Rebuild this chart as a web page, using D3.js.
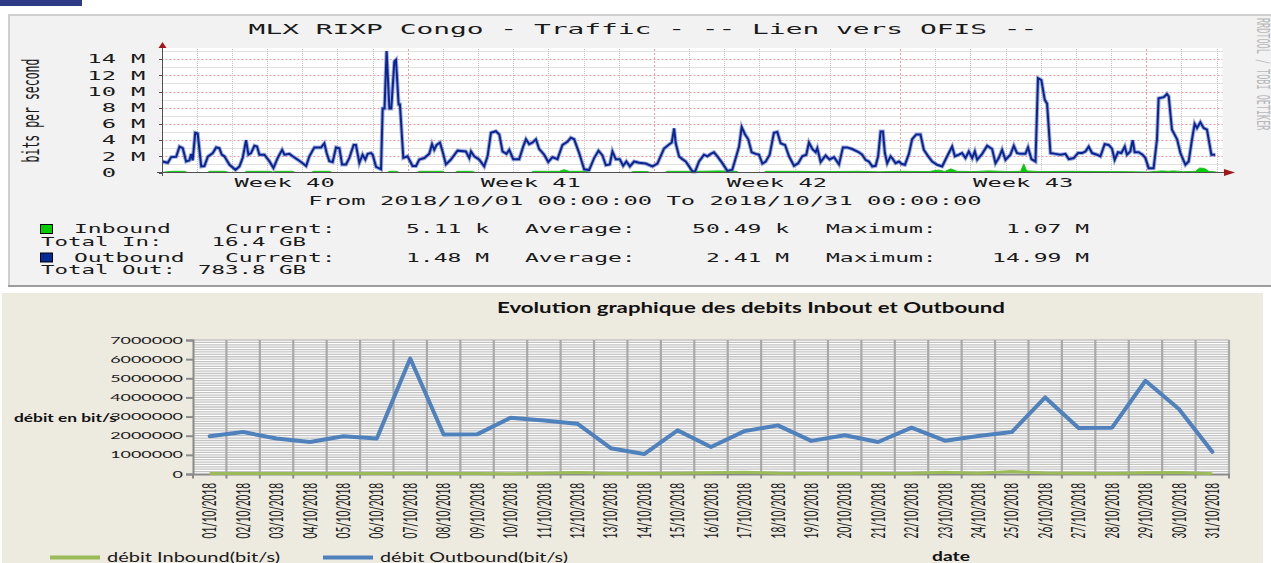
<!DOCTYPE html>
<html>
<head>
<meta charset="utf-8">
<script src="https://cdn.jsdelivr.net/npm/d3@7"></script>
<style>
  body { margin: 0; background: #fff; }
  svg { display: block; }
  text { white-space: pre; }
</style>
</head>
<body>
<div id="chart"></div>
<script>
// ---------- top graph (rrdtool) : hours since 2018/10/01 00:00, Mbit/s
const outHours = [
  0.5, 4.3, 6.6, 10.0, 12.3, 14.5, 16.8, 19.1, 20.2, 21.3,
  23.0, 24.7, 27.1, 29.3, 31.6, 35.0, 37.3, 39.5, 41.1, 42.9,
  46.4, 50.5, 53.2, 55.4, 57.7, 59.3, 61.1, 63.4, 65.2, 66.8,
  70.2, 73.6, 76.4, 79.3, 82.3, 83.9, 87.3, 89.5, 92.9, 95.9,
  98.7, 100.9, 104.3, 108.9, 111.1, 112.7, 114.5, 116.8, 119.1, 121.4,
  123.2, 125.9, 128.2, 131.1, 132.7, 135.0, 137.2, 139.1, 140.7, 143.0,
  144.1, 146.4, 149.8, 150.9, 152.2, 153.6, 155.5, 156.8, 158.9, 160.0,
  161.8, 162.7, 165.0, 167.9, 171.3, 173.7, 175.9, 179.3, 182.7, 184.6,
  186.1, 187.7, 190.0, 191.8, 194.1, 197.5, 202.0, 207.7, 210.0, 211.2,
  213.4, 216.8, 220.2, 222.5, 224.8, 228.2, 230.5, 232.7, 235.4, 237.3,
  240.0, 244.1, 246.8, 248.7, 250.9, 253.2, 255.5, 257.7, 261.1, 263.9,
  266.8, 270.2, 273.6, 277.0, 279.3, 281.6, 285.0, 288.4, 291.8, 295.2,
  298.2, 300.9, 303.2, 305.9, 307.7, 310.0, 312.7, 315.0, 317.2, 319.6,
  322.5, 325.9, 330.5, 335.0, 338.4, 342.9, 345.9, 348.2, 349.8, 350.9,
  353.2, 355.4, 357.7, 360.0, 362.3, 364.1, 366.8, 370.2, 372.5, 374.8,
  377.0, 379.3, 382.7, 386.1, 389.5, 392.2, 394.1, 395.9, 398.2, 400.4,
  402.7, 405.5, 407.7, 410.0, 412.3, 415.0, 417.9, 420.2, 422.5, 425.5,
  428.2, 431.6, 434.5, 437.2, 440.0, 441.8, 444.1, 446.4, 447.5, 449.8,
  453.2, 455.9, 458.9, 462.3, 465.0, 467.9, 471.3, 475.9, 478.1, 480.4,
  482.7, 485.0, 487.3, 489.0, 490.7, 492.3, 493.6, 495.2, 497.5, 499.1,
  500.9, 503.2, 505.0, 507.3, 510.0, 512.2, 515.0, 517.9, 520.2, 523.2,
  525.9, 529.3, 532.7, 536.1, 539.5, 541.4, 544.1, 546.3, 548.6, 550.9,
  553.2, 555.0, 556.6, 560.0, 563.4, 566.8, 569.1, 571.3, 573.6, 575.9,
  579.3, 581.6, 583.8, 586.1, 589.5, 591.3, 593.6, 596.4, 598.1, 600.4,
  602.7, 604.3, 606.6, 610.0, 613.4, 616.8, 619.1, 622.5, 625.4, 628.2,
  630.5, 632.7, 635.0, 638.4, 640.7, 643.6, 646.4, 648.6, 650.4, 652.7,
  655.0, 657.3, 658.8, 661.1, 662.7, 664.1, 666.8, 669.5, 671.4, 673.6,
  677.0, 679.3, 680.4, 683.9, 686.1, 687.3, 689.5, 693.0, 695.3, 698.7,
  700.9, 703.2, 705.0, 706.6, 708.9, 711.1, 713.4, 716.4, 719.1
];
const outMbps = [
  1.36, 1.2, 1.9, 1.95, 3.2, 3.0, 1.36, 1.5, 2.3, 1.5,
  4.9, 4.8, 0.75, 0.8, 1.95, 2.4, 3.1, 3.0, 2.2, 2.0,
  0.95, 0.33, 0.75, 1.8, 4.0, 2.2, 2.4, 3.3, 3.2, 2.2,
  2.2, 1.4, 0.55, 1.8, 2.8, 2.2, 2.3, 2.0, 1.6, 1.2,
  0.8, 2.0, 3.1, 3.1, 3.6, 2.4, 1.4, 1.3, 3.1, 3.0,
  1.0, 1.0, 1.8, 3.4, 3.4, 1.2, 2.2, 1.6, 2.3, 2.4,
  2.2, 0.7, 0.4, 7.9, 7.9, 15.0, 7.9, 7.9, 13.7, 13.9,
  8.4, 8.4, 1.8, 2.0, 0.8, 0.8, 1.6, 1.78, 2.3, 3.5,
  2.8, 3.4, 3.7, 2.6, 1.0, 1.6, 2.7, 2.6, 1.78, 2.6,
  2.0, 1.6, 0.75, 2.0, 4.9, 5.1, 4.7, 2.6, 2.3, 2.8,
  1.65, 1.65, 3.2, 4.1, 3.5, 3.7, 4.1, 2.9, 2.2, 1.3,
  1.9, 1.65, 3.4, 3.8, 4.3, 4.1, 2.4, 0.4, 0.3, 1.78,
  2.7, 2.1, 0.9, 1.0, 2.6, 1.65, 1.65, 0.83, 1.36, 0.75,
  1.36, 1.2, 1.1, 0.75, 1.1, 2.95, 3.4, 3.7, 5.45, 3.6,
  1.98, 1.65, 1.36, 0.75, 0.12, 0.12, 1.36, 2.2, 2.0, 2.3,
  2.5, 2.0, 1.15, 0.2, 0.35, 2.0, 3.2, 5.6, 4.7, 4.1,
  2.5, 2.3, 2.2, 1.1, 1.36, 2.2, 4.9, 5.0, 3.6, 3.4,
  2.0, 0.83, 1.15, 2.0, 2.2, 3.7, 2.9, 2.5, 3.0, 1.3,
  2.1, 1.6, 1.9, 1.0, 3.1, 3.1, 2.9, 2.5, 2.2, 1.57,
  1.36, 0.75, 0.83, 2.0, 5.06, 5.06, 2.4, 1.15, 2.0, 1.65,
  1.15, 1.36, 1.07, 0.95, 2.3, 4.1, 4.7, 4.7, 2.8, 2.0,
  1.36, 0.95, 0.75, 2.0, 3.2, 2.0, 2.2, 2.4, 1.78, 2.6,
  1.78, 2.6, 1.57, 2.3, 3.3, 2.9, 1.15, 1.78, 2.8, 1.57,
  2.2, 3.3, 2.4, 2.3, 2.3, 3.1, 1.65, 1.36, 11.65, 11.4,
  8.97, 8.5, 2.4, 2.3, 2.2, 2.3, 1.65, 1.78, 2.4, 2.4,
  2.6, 3.2, 2.4, 2.2, 2.0, 3.5, 3.4, 2.95, 1.57, 2.5,
  2.4, 3.2, 2.2, 2.6, 4.0, 2.5, 2.5, 2.2, 1.78, 0.54,
  0.54, 4.1, 9.15, 9.3, 9.7, 9.4, 5.3, 4.1, 2.4, 0.95,
  1.36, 4.1, 6.0, 5.5, 6.2, 5.5, 5.3, 2.2, 2.2
];
const inHours = [
  0, 6.6, 15.7, 17.7, 31.4, 32.7, 43.0, 46.4, 56.6, 58.0,
  74.3, 76.4, 77.7, 89.3, 91.4, 102.3, 103.6, 114.5, 116.6, 154.1,
  155.5, 160.2, 162.3, 174.5, 175.9, 191.6, 193.6, 200.4, 201.8, 212.0,
  214.1, 252.3, 253.6, 262.5, 271.4, 274.8, 278.2, 289.8, 291.8, 320.4,
  321.8, 331.3, 333.4, 343.6, 345.0, 366.8, 380.4, 392.0, 394.1, 411.1,
  412.5, 435.0, 455.4, 475.9, 489.5, 503.2, 523.6, 530.4, 534.5, 538.6,
  542.7, 554.3, 564.5, 578.2, 586.3, 588.4, 590.4, 598.6, 619.1, 639.5,
  660.0, 673.6, 682.5, 687.3, 690.6, 697.5, 705.7, 708.4, 711.8, 714.6,
  720
];
const inMbps = [
  0, 0.15, 0.15, 0, 0, 0.15, 0.15, 0, 0, 0.15,
  0.15, 0, 0.15, 0.15, 0, 0, 0.15, 0.15, 0, 0,
  0.15, 0.15, 0, 0, 0.15, 0.15, 0, 0, 0.15, 0.15,
  0, 0, 0.15, 0.15, 0.15, 0.35, 0.15, 0.15, 0, 0,
  0.12, 0.12, 0, 0, 0.15, 0.15, 0.2, 0.15, 0, 0,
  0.15, 0.15, 0.12, 0.15, 0.08, 0.15, 0.12, 0.3, 0.12, 0.45,
  0.15, 0.12, 0.2, 0.12, 0.15, 1.07, 0.2, 0.12, 0.15, 0.12,
  0.1, 0.05, 0.2, 0.15, 0.2, 0.1, 0.15, 0.55, 0.5, 0.15,
  0.05
];
const rrdTicks = [0, 2, 4, 6, 8, 10, 12, 14];
const weekLabels = ['Week 40', 'Week 41', 'Week 42', 'Week 43'];
const weekMidHours = [84, 252, 420, 588];
const statNames = ['Inbound', 'Outbound'];
const statCurrent = ['5.11 k', '1.48 M'];
const statAverage = ['50.49 k', '2.41 M'];
const statMaximum = ['1.07 M', '14.99 M'];
const statTotalLabel = ['Total In:', 'Total Out:'];
const statTotal = ['16.4 GB', '783.8 GB'];

// ---------- bottom graph (excel) : daily averages, bit/s
const dates = [
  '01/10/2018', '02/10/2018', '03/10/2018', '04/10/2018', '05/10/2018', '06/10/2018',
  '07/10/2018', '08/10/2018', '09/10/2018', '10/10/2018', '11/10/2018', '12/10/2018',
  '13/10/2018', '14/10/2018', '15/10/2018', '16/10/2018', '17/10/2018', '18/10/2018',
  '19/10/2018', '20/10/2018', '21/10/2018', '22/10/2018', '23/10/2018', '24/10/2018',
  '25/10/2018', '26/10/2018', '27/10/2018', '28/10/2018', '29/10/2018', '30/10/2018',
  '31/10/2018'
];
const inboundBits = [
  20000, 30000, 25000, 20000, 30000, 25000, 40000, 30000, 20000, 10000, 40000,
  80000, 30000, 30000, 40000, 70000, 90000, 40000, 30000, 20000, 30000,
  40000, 90000, 40000, 130000, 50000, 40000, 20000, 60000, 80000, 10000
];
const outboundBits = [
  1970000, 2190000, 1850000, 1670000, 1970000, 1850000, 6030000, 2060000, 2070000, 2940000, 2800000,
  2630000, 1350000, 1040000, 2280000, 1410000, 2240000, 2540000, 1730000, 2020000, 1670000,
  2420000, 1740000, 1980000, 2190000, 4000000, 2400000, 2420000, 4870000, 3400000, 1160000
];
const excelTicks = [0, 1000000, 2000000, 3000000, 4000000, 5000000, 6000000, 7000000];

const MONO = 'DejaVu Sans Mono';
const SANS = 'Lato, "Open Sans", sans-serif';

const svg = d3.select('#chart').append('svg')
    .attr('width', 1271)
    .attr('height', 563);

// text drawn in a font, then widened like the picture
function stext(parent, x, y, str, o) {
    const rot = o.rot ? ` rotate(${o.rot})` : '';
    return parent.append('text')
        .attr('transform', `translate(${x},${y}) scale(${o.sx || 1},1)${rot}`)
        .attr('text-anchor', o.anchor || 'start')
        .attr('fill', o.fill || '#1a1a1a')
        .style('font-family', o.font)
        .style('font-size', o.size + 'px')
        .style('font-weight', o.weight || 'normal')
        .text(str);
}

svg.append('rect')
    .attr('x', 0).attr('y', 0)
    .attr('width', 82).attr('height', 6)
    .attr('fill', '#2e3a86');

// ================= rrdtool panel =================
const rrd = svg.append('g');

rrd.append('rect')
    .attr('x', 8).attr('y', 14)
    .attr('width', 1270).attr('height', 273)
    .attr('fill', '#f2f2f2');
rrd.append('path')
    .attr('d', 'M9,287V15H1271')
    .attr('fill', 'none')
    .attr('stroke', '#cfcfcf')
    .attr('stroke-width', 2);
rrd.append('line')
    .attr('x1', 8).attr('x2', 1271)
    .attr('y1', 286).attr('y2', 286)
    .attr('stroke', '#9c9c9c')
    .attr('stroke-width', 2);

const xTop = d3.scaleLinear().domain([0, 724]).range([161.5, 1222.5]);
const yTop = d3.scaleLinear().domain([0, 15]).range([172.5, 51]);

rrd.append('rect')
    .attr('x', xTop(0)).attr('y', 48)
    .attr('width', xTop(724) - xTop(0))
    .attr('height', yTop(0) - 48)
    .attr('fill', '#ffffff');

// grid
const days = d3.range(1, 31);
rrd.selectAll('.vgrid')
    .data(days)
    .join('line')
    .attr('x1', d => Math.round(xTop(d * 24)) + 0.5)
    .attr('x2', d => Math.round(xTop(d * 24)) + 0.5)
    .attr('y1', yTop(15) - 2)
    .attr('y2', yTop(0))
    .attr('stroke', d => d % 7 === 0 ? '#f19a9a' : '#c4c4c4')
    .attr('stroke-dasharray', d => d % 7 === 0 ? '2,2' : '1,1');

const mbLevels = d3.range(1, 16);
rrd.selectAll('.hgrid')
    .data(mbLevels)
    .join('line')
    .attr('x1', xTop(0))
    .attr('x2', xTop(724))
    .attr('y1', d => Math.round(yTop(d)) + 0.5)
    .attr('y2', d => Math.round(yTop(d)) + 0.5)
    .attr('stroke', d => d % 2 === 0 ? '#f19a9a' : '#c4c4c4')
    .attr('stroke-dasharray', d => d % 2 === 0 ? '2,2' : '1,1');

// inbound area
const inPts = inHours.map((h, i) => [h, inMbps[i]]);
rrd.append('path')
    .datum(inPts)
    .attr('d', d3.area()
        .x(d => xTop(d[0]))
        .y0(yTop(0))
        .y1(d => yTop(d[1])))
    .attr('fill', '#00cc00')
    .attr('stroke', '#22c422')
    .attr('stroke-width', 1);

// outbound line
const outPts = outHours.map((h, i) => [h, outMbps[i]]);
const topLine = d3.line().x(d => xTop(d[0])).y(d => yTop(d[1]));
rrd.append('path')
    .datum(outPts)
    .attr('d', topLine)
    .attr('fill', 'none')
    .attr('stroke', '#5c74c4')
    .attr('stroke-opacity', 0.6)
    .attr('stroke-width', 4);
rrd.append('path')
    .datum(outPts)
    .attr('d', topLine)
    .attr('fill', 'none')
    .attr('stroke', '#0a2592')
    .attr('stroke-width', 2);

// axes with arrows
rrd.append('line')
    .attr('x1', 157).attr('x2', 1226)
    .attr('y1', yTop(0)).attr('y2', yTop(0))
    .attr('stroke', '#505050');
rrd.append('line')
    .attr('x1', 162.5).attr('x2', 162.5)
    .attr('y1', 176).attr('y2', 46)
    .attr('stroke', '#505050');
rrd.append('path')
    .attr('d', `M1224,${yTop(0) - 3.5}L1235,${yTop(0)}L1224,${yTop(0) + 3.5}Z`)
    .attr('fill', '#a01818');
rrd.append('path')
    .attr('d', 'M158.5,48L162.5,42L166.5,48Z')
    .attr('fill', '#a01818');
rrd.selectAll('.ytick')
    .data(rrdTicks)
    .join('line')
    .attr('x1', 159).attr('x2', 162.5)
    .attr('y1', d => Math.round(yTop(d)) + 0.5)
    .attr('y2', d => Math.round(yTop(d)) + 0.5)
    .attr('stroke', '#505050');

// texts
stext(rrd, 643, 33.5, 'MLX RIXP Congo - Traffic - -- Lien vers OFIS --',
    { font: MONO, size: 14.6, sx: 1.91, anchor: 'middle' });
stext(rrd, 39, 110.5, 'bits per second',
    { font: MONO, size: 11.5, sx: 2.07, rot: -90, anchor: 'middle' });
stext(rrd, 1257, 18, 'RRDTOOL / TOBI OETIKER',
    { font: MONO, size: 8.5, sx: 2.0, rot: 90, fill: '#b8b8b8' });

rrdTicks.forEach(v => {
    stext(rrd, 116, yTop(v) + 4.2, String(v), { font: MONO, size: 11.5, sx: 2.07, anchor: 'end' });
    if (v > 0) {
        stext(rrd, 131, yTop(v) + 4.2, 'M', { font: MONO, size: 11.5, sx: 2.07 });
    }
});

weekLabels.forEach((w, i) => {
    stext(rrd, xTop(weekMidHours[i]), 186.5, w, { font: MONO, size: 11.5, sx: 2.07, anchor: 'middle' });
});

stext(rrd, 645, 205, 'From 2018/10/01 00:00:00 To 2018/10/31 00:00:00',
    { font: MONO, size: 11.5, sx: 2.07, anchor: 'middle' });

const legendColors = ['#00cc00', '#002a97'];
const rowY = [233, 261.5];
const totalY = [246, 274];
statNames.forEach((name, i) => {
    const o = { font: MONO, size: 11.5, sx: 2.0 };
    rrd.append('rect')
        .attr('x', 40.5).attr('y', rowY[i] - 8.5)
        .attr('width', 12).attr('height', 9)
        .attr('fill', legendColors[i])
        .attr('stroke', '#000')
        .attr('stroke-width', 1);
    stext(rrd, 74, rowY[i], name, o);
    stext(rrd, 225, rowY[i], 'Current:', o);
    stext(rrd, 489, rowY[i], statCurrent[i], { ...o, anchor: 'end' });
    stext(rrd, 525, rowY[i], 'Average:', o);
    stext(rrd, 789, rowY[i], statAverage[i], { ...o, anchor: 'end' });
    stext(rrd, 826, rowY[i], 'Maximum:', o);
    stext(rrd, 1089, rowY[i], statMaximum[i], { ...o, anchor: 'end' });
    stext(rrd, 41, totalY[i], statTotalLabel[i], { ...o, sx: 1.95 });
    stext(rrd, 306, totalY[i], statTotal[i], { ...o, sx: 1.95, anchor: 'end' });
});

// ================= excel chart =================
const ex = svg.append('g');

ex.append('rect')
    .attr('x', 2).attr('y', 293)
    .attr('width', 1261).attr('height', 270)
    .attr('fill', '#edeae0');

const xEx = d3.scaleBand().domain(dates).range([193, 1229]);
const yEx = d3.scaleLinear().domain([0, 7000000]).range([474, 340]);

ex.append('rect')
    .attr('x', 193).attr('y', 340)
    .attr('width', 1229 - 193).attr('height', 474 - 340)
    .attr('fill', '#ffffff');

ex.selectAll('.minor')
    .data(d3.range(125000, 7000001, 125000))
    .join('line')
    .attr('x1', 193).attr('x2', 1229)
    .attr('y1', d => yEx(d)).attr('y2', d => yEx(d))
    .attr('stroke', '#c3c3c3')
    .attr('stroke-width', 1.3);

const bounds = dates.slice(1).map(d => xEx(d)).concat([1229]);
ex.selectAll('.vline')
    .data(bounds)
    .join('line')
    .attr('x1', d => d).attr('x2', d => d)
    .attr('y1', 340).attr('y2', 474)
    .attr('stroke', '#a9a9a9')
    .attr('stroke-width', 2.2);

const yAxisG = ex.append('g')
    .attr('transform', 'translate(193,0)')
    .call(d3.axisLeft(yEx).tickValues(excelTicks).tickSize(7).tickFormat(d3.format('d')));
yAxisG.select('.domain').attr('stroke', '#8a8a8a').attr('stroke-width', 2);
yAxisG.selectAll('.tick line').attr('stroke', '#8a8a8a').attr('stroke-width', 2);
yAxisG.selectAll('.tick text')
    .attr('x', -10 / 1.89)
    .attr('transform', 'scale(1.89,1)')
    .attr('fill', '#1a1a1a')
    .style('font-family', SANS)
    .style('font-size', '9.5px');

const xAxisG = ex.append('g')
    .attr('transform', 'translate(0,474)')
    .call(d3.axisBottom(xEx).tickSize(0).tickSizeOuter(0));
xAxisG.select('.domain').attr('stroke', '#8a8a8a').attr('stroke-width', 2);
xAxisG.selectAll('.tick text')
    .attr('x', 0).attr('y', 0)
    .attr('dy', '0.35em')
    .attr('text-anchor', 'end')
    .attr('transform', 'translate(0,9) scale(1.9,1) rotate(-90)')
    .attr('fill', '#1a1a1a')
    .style('font-family', SANS)
    .style('font-size', '10px');

ex.selectAll('.xtick')
    .data([193].concat(bounds))
    .join('line')
    .attr('x1', d => d).attr('x2', d => d)
    .attr('y1', 474).attr('y2', 478.5)
    .attr('stroke', '#8a8a8a')
    .attr('stroke-width', 2);

const exLine = d3.line()
    .x((d, i) => xEx(dates[i]) + xEx.bandwidth() / 2)
    .y(d => yEx(d));

ex.append('path')
    .datum(inboundBits)
    .attr('d', exLine)
    .attr('fill', 'none')
    .attr('stroke', '#9bbb59')
    .attr('stroke-width', 3)
    .attr('stroke-linejoin', 'round');
ex.append('path')
    .datum(outboundBits)
    .attr('d', exLine)
    .attr('fill', 'none')
    .attr('stroke', '#4f81bd')
    .attr('stroke-width', 4)
    .attr('stroke-linejoin', 'round')
    .attr('stroke-linecap', 'round');

ex.append('text')
    .attr('x', 497).attr('y', 312.5)
    .attr('textLength', 508)
    .attr('lengthAdjust', 'spacingAndGlyphs')
    .style('font-family', SANS)
    .style('font-size', '14.5px')
    .style('font-weight', 700)
    .attr('fill', '#111')
    .text('Evolution graphique des debits Inbout et Outbound');

ex.append('text')
    .attr('x', 14).attr('y', 421.5)
    .attr('textLength', 103)
    .attr('lengthAdjust', 'spacingAndGlyphs')
    .style('font-family', SANS)
    .style('font-size', '11.5px')
    .style('font-weight', 700)
    .attr('fill', '#111')
    .text('débit en bit/s');

// legend
const legendNames = ['débit Inbound(bit/s)', 'débit Outbound(bit/s)'];
const legendLineColors = ['#9bbb59', '#4f81bd'];
const legendX = [50, 323];
const legendW = [173, 188];
legendNames.forEach((n, i) => {
    ex.append('line')
        .attr('x1', legendX[i]).attr('x2', legendX[i] + 50)
        .attr('y1', 557.5).attr('y2', 557.5)
        .attr('stroke', legendLineColors[i])
        .attr('stroke-width', 4);
    ex.append('text')
        .attr('x', legendX[i] + 57).attr('y', 561.5)
        .attr('textLength', legendW[i])
        .attr('lengthAdjust', 'spacingAndGlyphs')
        .style('font-family', SANS)
        .style('font-size', '13px')
        .attr('fill', '#1a1a1a')
        .text(n);
});

ex.append('text')
    .attr('x', 932).attr('y', 561)
    .attr('textLength', 38)
    .attr('lengthAdjust', 'spacingAndGlyphs')
    .style('font-family', SANS)
    .style('font-size', '13px')
    .style('font-weight', 700)
    .attr('fill', '#111')
    .text('date');
</script>
</body>
</html>
